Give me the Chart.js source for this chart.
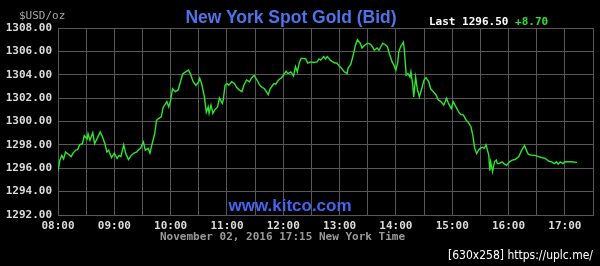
<!DOCTYPE html>
<html>
<head>
<meta charset="utf-8">
<script src="https://cdn.jsdelivr.net/npm/chart.js@4"></script>
<style>
  html, body { margin: 0; padding: 0; background: #000; }
  #wrap { position: relative; width: 600px; height: 266px; background: #000; overflow: hidden; }
  #c { position: absolute; left: 0; top: 0; }
  .t { position: absolute; white-space: pre; }
  .mono { font-family: "DejaVu Sans Mono", monospace; font-size: 11px; line-height: 11px; }
</style>
</head>
<body>
<div id="wrap">
  <canvas id="c" width="600" height="266"></canvas>
  <div class="t mono" style="left:19px; top:10px; color:#a8a8a8;">$USD/oz</div>
  <div class="t" id="title" style="left:291px; top:7px; font-family:'Liberation Sans',Arial,sans-serif; font-weight:bold; font-size:19px; line-height:19px; color:#4f73ea; transform:translateX(-50%) scaleX(0.92);">New York Spot Gold (Bid)</div>
  <div class="t mono" style="left:429px; top:16px; color:#ffffff; font-weight:bold;">Last 1296.50 <span style="color:#2fe02f;">+8.70</span></div>
  <div class="t" style="left:290px; top:197px; font-family:'Liberation Sans',Arial,sans-serif; font-weight:bold; font-size:17px; line-height:17px; color:#4466ee; transform:translateX(-50%);">www.kitco.com</div>
  <div class="t mono" style="left:160px; top:231px; color:#9a9a9a; font-weight:bold;">November 02, 2016 17:15 New York Time</div>
  <div class="t" style="left:448px; top:249px; font-family:'DejaVu Sans Condensed','DejaVu Sans',sans-serif; font-size:12px; line-height:13px; color:#ffffff;">[630x258] https://uplc.me/</div>
</div>
<script>
// minutes after 08:00 New York time
const minutes = [
  0,2,4,6,8,11,14,16,19,21,23,26,28,31,32,34,37,39,42,45,
  47,50,52,54,57,60,63,65,67,70,72,75,78,81,84,86,88,91,93,96,
  98,100,103,105,107,110,112,116,118,120,122,125,128,131,133,136,139,141,144,147,
  150,151,153,156,158,160,161,163,165,167,170,172,175,176,178,180,182,185,188,190,
  193,196,198,201,204,206,209,212,215,217,220,224,226,230,232,235,238,240,243,245,
  248,251,253,255,257,259,261,264,266,269,272,276,278,280,283,285,287,290,292,295,
  297,300,302,305,308,309,312,315,317,319,322,324,327,330,333,335,337,340,342,346,
  349,351,353,356,358,360,362,363,365,368,369,371,373,375,376,378,379,381,383,385,
  388,390,392,395,397,400,403,405,408,411,414,416,419,421,424,427,429,432,435,437,
  440,442,444,446,448,450,452,454,456,459,460,461,463,465,467,468,470,473,475,478,
  481,484,487,491,494,497,499,501,505,508,512,516,519,523,526,529,531,533,535,538,
  540,546,553
];
// spot gold bid, USD/oz
const prices = [
  1295.8,1296.7,1297.1,1296.8,1297.4,1297.2,1297.0,1297.3,1297.55,1297.6,1298.0,1298.1,1298.8,1298.5,1298.95,1298.4,1299.05,1298.1,1298.6,1299.1,
  1298.75,1298.1,1297.4,1297.55,1296.9,1297.3,1296.85,1297.1,1297.0,1298.0,1297.3,1296.75,1297.1,1297.3,1297.4,1297.6,1297.7,1298.25,1297.55,1297.7,
  1297.3,1298.0,1298.95,1300.1,1300.25,1300.4,1301.2,1301.7,1301.25,1301.8,1302.8,1302.55,1302.7,1303.55,1304.1,1304.25,1304.4,1304.1,1303.4,1303.1,
  1303.4,1303.7,1303.25,1302.1,1300.8,1301.25,1300.7,1301.4,1300.7,1301.0,1301.25,1302.0,1301.55,1301.8,1303.1,1303.25,1303.1,1303.4,1303.25,1302.95,
  1302.7,1302.55,1303.1,1303.55,1303.4,1303.7,1303.95,1303.55,1303.1,1302.95,1302.8,1302.3,1302.8,1303.25,1303.2,1303.55,1303.75,1303.95,1304.3,1304.1,
  1304.25,1303.9,1304.7,1304.25,1305.0,1305.4,1305.4,1305.35,1305.0,1305.1,1305.05,1305.1,1305.35,1305.25,1305.55,1305.35,1305.55,1305.25,1305.15,1305.0,
  1305.0,1304.7,1304.55,1304.25,1304.1,1304.55,1304.9,1305.85,1306.55,1307.0,1306.7,1306.3,1306.55,1306.7,1306.6,1306.4,1306.1,1306.3,1306.1,1306.7,
  1306.55,1306.4,1305.8,1305.1,1304.8,1304.4,1305.1,1305.95,1306.4,1306.8,1306.1,1303.95,1304.1,1303.8,1304.25,1303.1,1302.1,1303.8,1302.7,1302.1,
  1302.95,1303.55,1303.75,1303.4,1302.8,1302.55,1302.25,1301.85,1301.7,1301.4,1302.0,1301.55,1301.1,1301.7,1301.25,1300.8,1300.6,1300.55,1300.1,1299.95,
  1299.55,1298.8,1297.7,1297.25,1297.55,1297.7,1297.8,1297.7,1298.0,1297.1,1295.8,1296.55,1295.7,1296.55,1296.7,1296.4,1296.4,1296.55,1296.4,1296.25,
  1296.55,1296.7,1296.75,1297.0,1297.55,1297.95,1297.55,1297.2,1297.1,1297.1,1297.0,1296.9,1296.85,1296.6,1296.55,1296.4,1296.55,1296.35,1296.55,1296.4,
  1296.55,1296.55,1296.5
];
const hourLabels = ["08:00","09:00","10:00","11:00","12:00","13:00","14:00","15:00","16:00","17:00"];
const yMin = 1292, yMax = 1308, yStep = 2;
const xMax = 570, xStep = 30;

const points = minutes.map((m, i) => ({ x: m, y: prices[i] }));
const tickFont = { family: "'DejaVu Sans Mono', monospace", size: 11, weight: 'bold' };
const gridColor = '#575757';

new Chart(document.getElementById('c'), {
  type: 'line',
  data: {
    datasets: [{
      data: points,
      borderColor: '#2ee62e',
      borderWidth: 1.4,
      pointRadius: 0,
      tension: 0,
      fill: false
    }]
  },
  options: {
    responsive: false,
    animation: false,
    events: [],
    layout: { padding: { top: 28, right: 7, left: 0, bottom: 0 } },
    plugins: { legend: { display: false }, tooltip: { enabled: false }, title: { display: false } },
    scales: {
      x: {
        type: 'linear',
        min: 0, max: xMax,
        afterFit(s) { s.height = 51; },
        grid: { color: gridColor, lineWidth: 1, drawTicks: false },
        border: { color: gridColor, width: 1 },
        ticks: {
          stepSize: xStep,
          autoSkip: false,
          maxRotation: 0,
          padding: 5,
          color: '#dcdcdc',
          font: tickFont,
          callback: (v) => (v % 60 === 0 && hourLabels[v / 60]) ? hourLabels[v / 60] : ''
        }
      },
      y: {
        min: yMin, max: yMax,
        afterFit(s) { s.width = 58; },
        grid: { color: gridColor, lineWidth: 1, drawTicks: false },
        border: { color: gridColor, width: 1 },
        ticks: {
          stepSize: yStep,
          padding: 6,
          color: '#dcdcdc',
          font: tickFont,
          callback: (v) => v.toFixed(2)
        }
      }
    }
  }
});
</script>
</body>
</html>
